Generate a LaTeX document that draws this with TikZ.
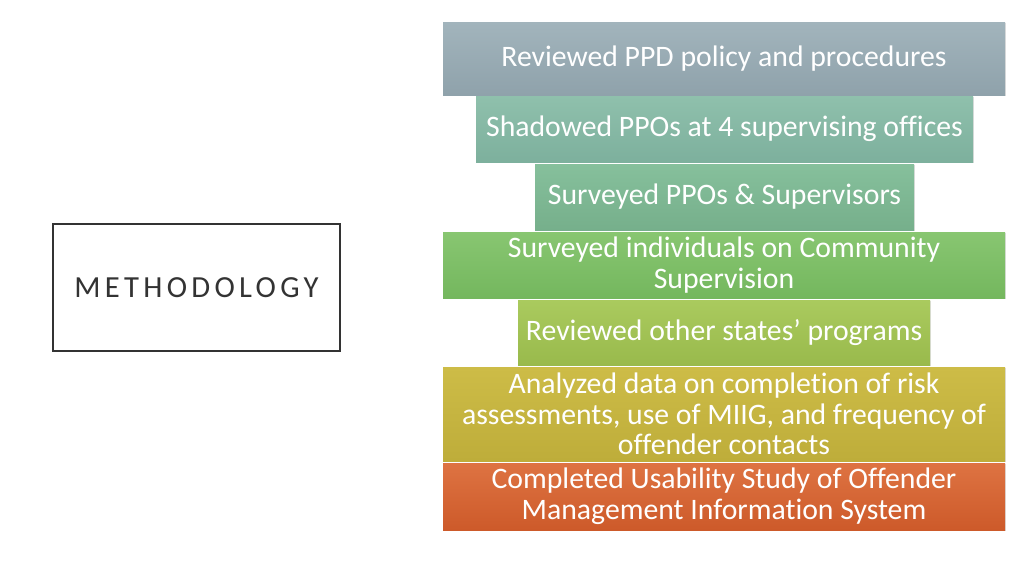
\documentclass[tikz,border=0pt]{standalone}
\usepackage{fontspec}
\setmainfont{Carlito}[Ligatures=NoCommon]
\usetikzlibrary{shadows}
\definecolor{c1t}{HTML}{A2B4BC}\definecolor{c1b}{HTML}{8FA2AB}
\definecolor{c2t}{HTML}{8FC0AC}\definecolor{c2b}{HTML}{7DB09D}
\definecolor{c3t}{HTML}{86C09C}\definecolor{c3b}{HTML}{76AF8B}
\definecolor{c4t}{HTML}{88C671}\definecolor{c4b}{HTML}{74B75E}
\definecolor{c5t}{HTML}{AACA5E}\definecolor{c5b}{HTML}{99BA4C}
\definecolor{c6t}{HTML}{CDBC47}\definecolor{c6b}{HTML}{BEAD3A}
\definecolor{c7t}{HTML}{DE7342}\definecolor{c7b}{HTML}{CD5A2A}
\definecolor{titlegray}{HTML}{333333}
\tikzset{
  stepbox/.style={rectangle, inner sep=0pt, text=white, align=center,
    font=\fontsize{22.3}{23}\selectfont,
    drop shadow={opacity=0.25, shadow xshift=0.8pt, shadow yshift=-0.8pt}},
  titlebox/.style={rectangle, draw=titlegray, line width=1.6pt, inner sep=0pt,
    minimum width=215pt, minimum height=95pt, text=titlegray,
    font=\fontsize{23}{26}\selectfont}
}
\begin{document}
\begin{tikzpicture}[x=0.75pt,y=-0.75pt]
\useasboundingbox[fill=white] (0,0) rectangle (1024,576);
\node[titlebox] (title) at (196.5,287.5) {\addfontfeatures{LetterSpace=14}METHODOLOGY\hspace{-2pt}};
\node[stepbox, top color=c1t, bottom color=c1b, minimum width=421.5pt, minimum height=54.75pt] (b1) at (724,58.5) {Reviewed PPD policy and procedures};
\node[stepbox, top color=c2t, bottom color=c2b, minimum width=372.75pt, minimum height=49.5pt] (b2) at (724.5,129) {Shadowed PPOs at 4 supervising offices};
\node[stepbox, top color=c3t, bottom color=c3b, minimum width=284.25pt, minimum height=49.5pt] (b3) at (724.5,197) {Surveyed PPOs \& Supervisors};
\node[stepbox, top color=c4t, bottom color=c4b, minimum width=421.5pt, minimum height=49.5pt] (b4) at (724,265) {Surveyed individuals on Community\\Supervision};
\node[stepbox, top color=c5t, bottom color=c5b, minimum width=309pt, minimum height=48.75pt] (b5) at (724,332.5) {Reviewed other states’ programs};
\node[stepbox, top color=c6t, bottom color=c6b, minimum width=421.5pt, minimum height=70.5pt] (b6) at (724,414) {Analyzed data on completion of risk\\assessments, use of MIIG, and frequency of\\offender contacts};
\node[stepbox, top color=c7t, bottom color=c7b, minimum width=421.5pt, minimum height=50.25pt] (b7) at (724,496.5) {Completed Usability Study of Offender\\Management Information System};
\end{tikzpicture}
\end{document}
